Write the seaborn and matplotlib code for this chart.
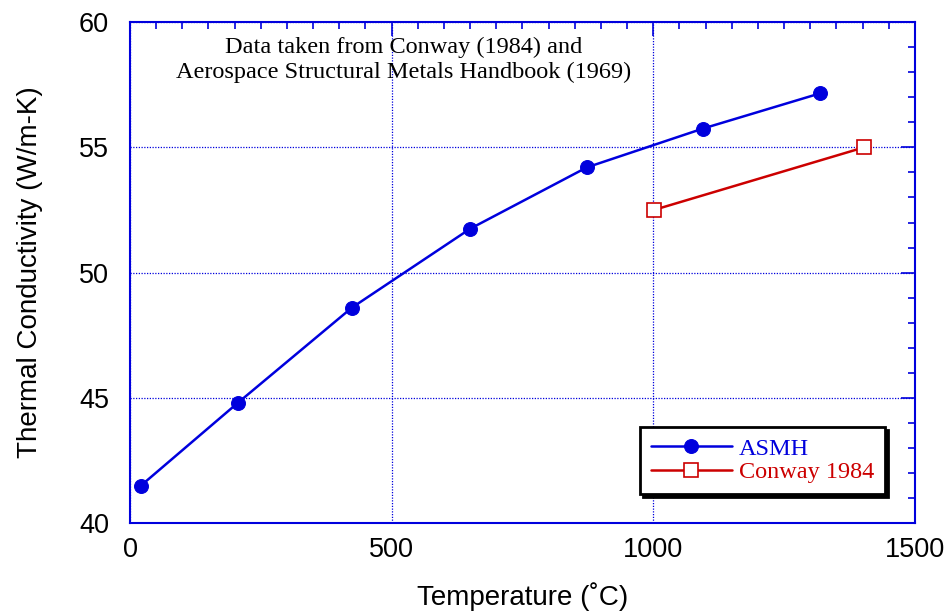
import numpy as np
import pandas as pd
import seaborn as sns
import matplotlib.pyplot as plt
from matplotlib.ticker import MultipleLocator

# ASMH data (Aerospace Structural Metals Handbook, 1969)
asmh_temp = [21, 206, 424, 650, 873, 1095, 1318]
asmh_k = [41.5, 44.8, 48.6, 51.75, 54.2, 55.75, 57.15]

# Conway (1984)
conway_temp = [1001, 1403]
conway_k = [52.5, 55.0]

series_names = ["ASMH", "Conway 1984"]

BLUE = "#0000dd"
RED = "#cc0000"

sns.set_style("white")
plt.rcParams["font.family"] = ["Liberation Sans", "DejaVu Sans"]
plt.rcParams["text.color"] = "black"
plt.rcParams["axes.labelcolor"] = "black"

df = pd.concat([
    pd.DataFrame({"T": asmh_temp, "k": asmh_k, "src": series_names[0]}),
    pd.DataFrame({"T": conway_temp, "k": conway_k, "src": series_names[1]}),
])

fig = plt.figure(figsize=(9.49, 6.14), dpi=100)
ax = fig.add_axes([0.137, 0.148, 0.827, 0.816])

sns.lineplot(data=df[df.src == "ASMH"], x="T", y="k", ax=ax, color=BLUE,
             marker="o", markersize=10, markeredgecolor=BLUE, linewidth=1.8,
             label="ASMH", sort=False)
sns.lineplot(data=df[df.src == "Conway 1984"], x="T", y="k", ax=ax, color=RED,
             marker="s", markersize=9.5, markerfacecolor="white",
             markeredgecolor=RED, markeredgewidth=1.2, linewidth=1.8,
             label="Conway 1984", sort=False)

ax.set_xlim(0, 1500)
ax.set_ylim(40, 60)
ax.xaxis.set_major_locator(MultipleLocator(500))
ax.xaxis.set_minor_locator(MultipleLocator(50))
ax.yaxis.set_major_locator(MultipleLocator(5))
ax.yaxis.set_minor_locator(MultipleLocator(1))

ax.grid(True, which="major", color=BLUE, linestyle=(0, (1, 1.2)), linewidth=0.9)
for s in ax.spines.values():
    s.set_color(BLUE)
    s.set_linewidth(1.5)
ax.tick_params(which="both", direction="in", top=True, right=True,
               color=BLUE, labelsize=19.5, labelcolor="black")
ax.tick_params(which="major", length=10, width=1.2)
ax.tick_params(axis="x", which="major", pad=10)
ax.tick_params(axis="y", which="major", pad=15)
ax.tick_params(which="minor", length=5, width=1.2)

ax.set_xlabel("Temperature (˚C)", fontsize=20, labelpad=14)
ax.set_ylabel("Thermal Conductivity (W/m-K)", fontsize=20, labelpad=26)

ax.text(0.348, 0.97, "Data taken from Conway (1984) and\nAerospace Structural Metals Handbook (1969)",
        transform=ax.transAxes, ha="center", va="top", fontsize=17.5,
        family="Liberation Serif", linespacing=1.2)

leg = ax.legend(loc="lower right", bbox_to_anchor=(0.962, 0.058), frameon=True,
                fancybox=False, shadow={"color": "black", "alpha": 1},
                edgecolor="black", prop={"family": "Liberation Serif", "size": 17.5},
                handlelength=3.3, handletextpad=0.3, borderpad=0.45,
                labelspacing=0.05, borderaxespad=0)
leg.get_frame().set_linewidth(2)
leg.get_frame().set_alpha(1)
for txt, c in zip(leg.get_texts(), [BLUE, RED]):
    txt.set_color(c)

fig.savefig("out.png", dpi=100)
